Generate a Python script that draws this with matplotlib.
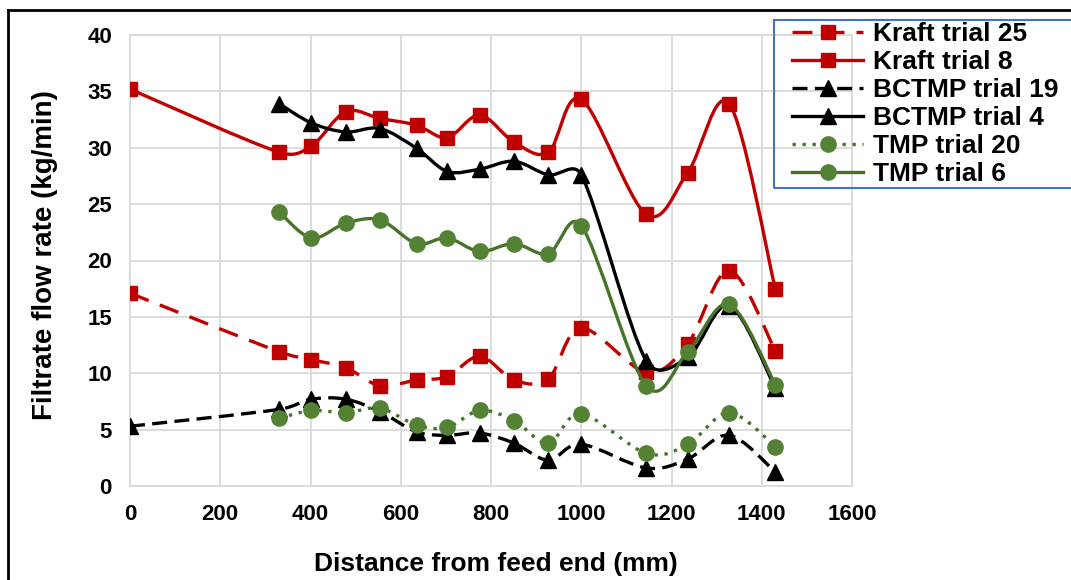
import numpy as np
import matplotlib
matplotlib.use('Agg')
import matplotlib.pyplot as plt
from matplotlib.path import Path
from matplotlib.patches import PathPatch, Rectangle
from matplotlib.lines import Line2D

plt.rcParams['font.family'] = ['Liberation Sans', 'DejaVu Sans']
plt.rcParams['font.weight'] = 'bold'

# distance from feed end (mm)
x_full = [0, 331, 402, 478, 554, 635, 703, 775, 851, 927, 1000, 1144, 1236, 1328, 1430]
x_part = x_full[1:]

# filtrate flow rate (kg/min)
kraft_25 = [17.1, 11.9, 11.2, 10.5, 8.9, 9.4, 9.7, 11.5, 9.4, 9.5, 14.0, 10.1, 12.6, 19.1, 12.0]
kraft_8 = [35.2, 29.6, 30.15, 33.2, 32.6, 32.0, 30.9, 32.9, 30.5, 29.6, 34.3, 24.1, 27.8, 33.9, 17.5]
bctmp_19 = [5.3, 6.8, 7.7, 7.7, 6.6, 4.8, 4.5, 4.7, 3.8, 2.3, 3.7, 1.6, 2.4, 4.5, 1.25]
bctmp_4 = [33.9, 32.2, 31.4, 31.7, 29.95, 27.9, 28.1, 28.8, 27.6, 27.6, 11.1, 11.4, 16.0, 8.7]
tmp_20 = [6.0, 6.7, 6.5, 6.9, 5.4, 5.2, 6.7, 5.8, 3.8, 6.4, 2.9, 3.7, 6.5, 3.5]
tmp_6 = [24.3, 22.0, 23.3, 23.6, 21.5, 22.0, 20.8, 21.5, 20.6, 23.1, 8.9, 11.9, 16.1, 9.0]

RED = '#C00000'
GREEN = '#548235'
GREEN_LINE = '#46732A'

# pixel scale of the plot area, used only to shape the smoothing like Excel does
SX = 722 / 1600
SY = 451 / 40


def smooth_path(xs, ys):
    # Excel-like smoothed line: Bezier through every point, control arm capped at half the segment
    pts = np.column_stack([np.asarray(xs) * SX, np.asarray(ys) * SY]).astype(float)
    n = len(pts)
    verts = [pts[0]]
    codes = [Path.MOVETO]
    for i in range(n - 1):
        p0 = pts[i - 1] if i > 0 else pts[i]
        p1 = pts[i]
        p2 = pts[i + 1]
        p3 = pts[i + 2] if i + 2 < n else pts[i + 1]
        half = np.hypot(*(p2 - p1)) / 2
        a1 = (p2 - p0) / 6
        a2 = (p3 - p1) / 6
        for a in (a1, a2):
            la = np.hypot(*a)
            if la > half and la > 0:
                a *= half / la
        verts += [p1 + a1, p2 - a2, p2]
        codes += [Path.CURVE4] * 3
    verts = np.array(verts)
    verts[:, 0] /= SX
    verts[:, 1] /= SY
    return Path(verts, codes)


series = [
    ('Kraft trial 25', x_full, kraft_25, RED, RED, (0, (6.0, 3.6)), 's', 10),
    ('Kraft trial 8', x_full, kraft_8, RED, RED, '-', 's', 10),
    ('BCTMP trial 19', x_full, bctmp_19, 'black', 'black', (0, (4.5, 2.2)), '^', 11),
    ('BCTMP trial 4', x_part, bctmp_4, 'black', 'black', '-', '^', 11),
    ('TMP trial 20', x_part, tmp_20, GREEN_LINE, GREEN, (0, (1.0, 2.0)), 'o', 11),
    ('TMP trial 6', x_part, tmp_6, GREEN_LINE, GREEN, '-', 'o', 11),
]

fig = plt.figure(figsize=(10.71, 5.8), dpi=100)
ax = fig.add_axes([130 / 1071, 94 / 580, 722 / 1071, 451 / 580])

lw = 2.4
handles = []
for i, (name, xs, ys, lc, mc, ls, mk, ms) in enumerate(series):
    patch = PathPatch(smooth_path(xs, ys), facecolor='none', edgecolor=lc,
                      linewidth=lw, linestyle=ls, zorder=3 + i)
    ax.add_patch(patch)
    ax.plot(xs, ys, linestyle='none', marker=mk, markersize=ms,
            color=mc, markeredgecolor=mc, zorder=3 + i)
    handles.append(Line2D([], [], color=lc, linewidth=lw, linestyle=ls,
                          marker=mk, markersize=ms, markerfacecolor=mc,
                          markeredgecolor=mc, label=name))

ax.set_xlim(0, 1600)
ax.set_ylim(0, 40)
ax.set_xticks(range(0, 1601, 200))
ax.set_yticks(range(0, 41, 5))
ax.tick_params(length=0, labelsize=16, pad=13)
ax.grid(True, color='#d9d9d9', linewidth=1.3)
ax.set_axisbelow(True)
for s in ax.spines.values():
    s.set_color('#d9d9d9')
    s.set_linewidth(1.3)

fig.text(496 / 1071, 1 - 564 / 580, 'Distance from feed end (mm)',
         ha='center', va='center', fontsize=19, fontweight='bold')
fig.text(45 / 1071, 1 - 255 / 580, 'Filtrate flow rate (kg/min)',
         ha='center', va='center', rotation=90, fontsize=20, fontweight='bold')

# legend: blue frame drawn separately so the entries can sit inside with Excel-like padding
fig.add_artist(Rectangle((774 / 1071, 1 - 188 / 580), 320 / 1071, 168 / 580,
                         transform=fig.transFigure, fill=False,
                         edgecolor='#4472C4', linewidth=1.5))
fig.legend(handles=handles, loc='upper left',
           bbox_to_anchor=(792 / 1071, 1 - 22 / 580),
           fontsize=19, frameon=False,
           handlelength=2.7, handletextpad=0.38, labelspacing=0.15,
           borderpad=0.0, borderaxespad=0)

# outer chart border (top and left edges)
fig.add_artist(Line2D([8 / 1071, 1], [1 - 10 / 580, 1 - 10 / 580],
                      transform=fig.transFigure, color='black', linewidth=2))
fig.add_artist(Line2D([8 / 1071, 8 / 1071], [0, 1 - 10 / 580],
                      transform=fig.transFigure, color='black', linewidth=2))

fig.savefig('out.png', dpi=100)
